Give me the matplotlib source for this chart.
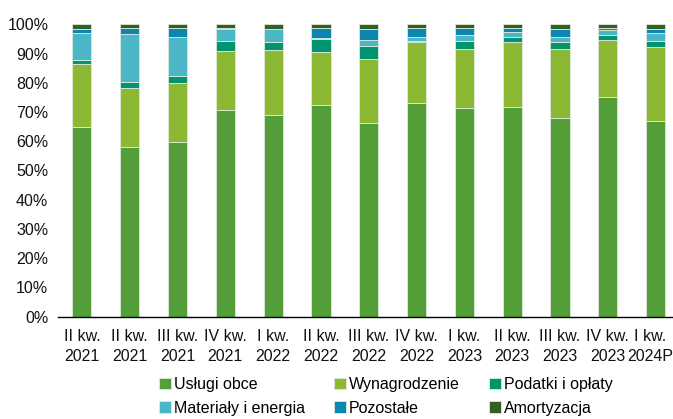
import numpy as np
import matplotlib.pyplot as plt
from matplotlib.transforms import ScaledTranslation

quarters = ['II kw.\n2021', 'II kw.\n2021', 'III kw.\n2021', 'IV kw.\n2021',
            'I kw.\n2022', 'II kw.\n2022', 'III kw.\n2022', 'IV kw.\n2022',
            'I kw.\n2023', 'II kw.\n2023', 'III kw.\n2023', 'IV kw.\n2023',
            'I kw.\n2024P']

# segment shares (%)
uslugi = [65.0, 58.2, 59.6, 70.8, 69.1, 72.5, 66.1, 73.2, 71.5, 71.9, 67.9, 75.1, 67.1]
wynagr = [21.4, 20.2, 20.3, 20.1, 22.2, 18.0, 22.0, 20.9, 20.0, 22.0, 23.7, 19.7, 25.2]
podatki = [1.5, 2.0, 2.6, 3.6, 2.8, 4.4, 4.6, 0.2, 3.0, 1.8, 2.4, 1.6, 2.2]
materialy = [9.3, 16.5, 13.3, 4.0, 4.3, 0.3, 2.0, 1.4, 1.9, 1.7, 1.7, 1.7, 2.6]
pozostale = [1.4, 1.8, 2.9, 0.3, 0.0, 3.5, 3.7, 3.2, 2.3, 1.3, 2.7, 0.7, 1.3]
amortyzacja = [1.4, 1.3, 1.3, 1.2, 1.6, 1.3, 1.6, 1.3, 1.3, 1.3, 1.6, 1.2, 1.6]

names = ['Usługi obce', 'Wynagrodzenie', 'Podatki i opłaty',
         'Materiały i energia', 'Pozostałe', 'Amortyzacja']
colors = ['#539e39', '#8db833', '#00956f', '#4bb6c6', '#0b86b1', '#345e24']

plt.rcParams['font.family'] = ['Liberation Sans', 'DejaVu Sans']
fsize = 11.5

fig = plt.figure(figsize=(6.73, 4.19), dpi=100)
ax = fig.add_axes([0.0862, 0.2446, 0.92, 0.697])

x = np.arange(len(quarters))
bottom = np.zeros(len(quarters))
handles = []
for vals, name, col in zip([uslugi, wynagr, podatki, materialy, pozostale, amortyzacja],
                           names, colors):
    b = ax.bar(x, vals, bottom=bottom, width=0.4, color=col, label=name,
               edgecolor='#dfeadc', linewidth=0.6)
    handles.append(b)
    bottom += np.array(vals)

ax.set_xlim(-0.5, 12.45)
ax.set_ylim(0, 100)
ax.set_yticks(np.arange(0, 101, 10))
ax.set_yticklabels([f'{v}%' for v in range(0, 101, 10)])
ax.set_xticks(x)
ax.set_xticklabels(quarters, linespacing=1.45)
ax.tick_params(axis='both', length=0, labelsize=fsize, colors='#111111')
ax.tick_params(axis='x', pad=9)
ax.tick_params(axis='y', pad=7)
for s in ['left', 'right', 'top']:
    ax.spines[s].set_visible(False)
ax.spines['bottom'].set_linewidth(1.0)

# last label sits right at the edge, nudge it in so "2024P" is not cut
last = ax.get_xticklabels()[-1]
last.set_transform(last.get_transform() + ScaledTranslation(-4 / 72, 0, fig.dpi_scale_trans))

# row-wise order like the reference (matplotlib fills legend columns first)
order = [0, 3, 1, 4, 2, 5]
ax.legend([handles[i] for i in order], [names[i] for i in order],
          loc='upper left', bbox_to_anchor=(0.153, -0.185), ncol=3, frameon=False,
          fontsize=fsize, handlelength=0.75, handleheight=0.75, handletextpad=0.2,
          columnspacing=1.8, labelspacing=0.55, borderaxespad=0)

fig.savefig('out.png', dpi=100)
